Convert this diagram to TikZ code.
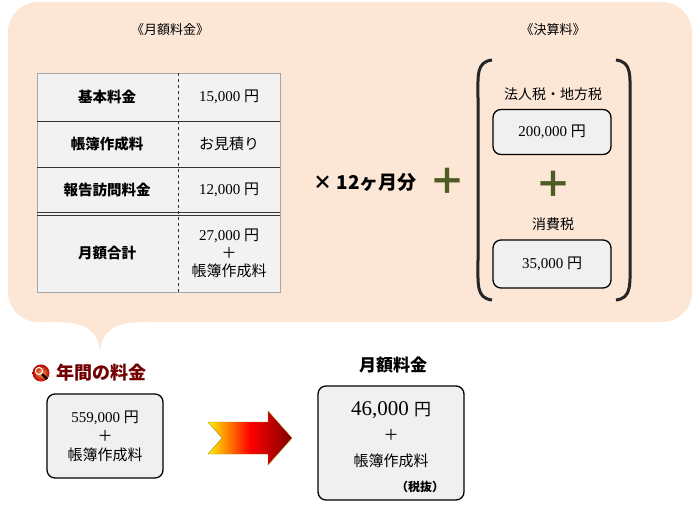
\documentclass[tikz,border=0pt]{standalone}
\usepackage{fontspec}
\setmainfont{Liberation Serif}
\newfontfamily\cjk{Noto Sans CJK JP}
\definecolor{pluscol}{HTML}{4E5B24}
\definecolor{bub}{HTML}{FCE6D6}
\begin{document}
\begin{tikzpicture}[x=1pt,y=-1pt,
  cell/.style={font=\cjk\bfseries\fontsize{14.5}{17}\selectfont},
  val/.style={font=\fontsize{15}{17}\selectfont,align=center},
  rbox/.style={draw=black,line width=1.3pt,rounded corners=8pt,fill=gray!12}]
\useasboundingbox (0,0) rectangle (700,511);
% background bubble
\fill[bub,rounded corners=30pt] (8,2) rectangle (692,322);
\fill[bub] (55,300) -- (55,322) .. controls (85,322) and (98,330) .. (100,352) .. controls (102,330) and (115,322) .. (145,322) -- (145,300) -- cycle;
% headers
\node (h1) at (170,30) {\cjk\fontsize{13}{15}\selectfont 《月額料金》};
\node (h2) at (553,30) {\cjk\fontsize{13}{15}\selectfont 《決算料》};
% table
\fill[gray!10,draw=gray!70,line width=1pt] (37,73) rectangle (280,292);
\draw[gray!40!black,dashed] (178,73) -- (178,292);
\draw[gray!40!black] (37,121) -- (280,121) (37,167) -- (280,167) (37,212) -- (280,212) (37,215) -- (280,215);
\node[cell] (a1) at (107,97) {基本料金};
\node[val] (b1) at (229,97) {15,000 {\cjk 円}};
\node[cell] (a2) at (107,144) {帳簿作成料};
\node[val] (b2) at (229,144) {\cjk お見積り};
\node[cell] (a3) at (107,190) {報告訪問料金};
\node[val] (b3) at (229,190) {12,000 {\cjk 円}};
\node[cell] (a4) at (107,253) {月額合計};
\node[val] (b4) at (229,253) {27,000 {\cjk 円}\\[1pt]{\cjk ＋}\\[1pt]{\cjk 帳簿作成料}};
% multiplication
\node (m) at (365,182) {\cjk\bfseries\fontsize{19}{22}\selectfont × 12ヶ月分};
\node[text=pluscol] (p1) at (447,181) {\cjk\bfseries\fontsize{36}{36}\selectfont ＋};
% brackets
\draw[line width=3pt,black!85] (492,60) .. controls (476,62) and (478,75) .. (478,100) -- (478,258) .. controls (478,285) and (476,298) .. (492,300);
\draw[line width=3pt,black!85] (616,60) .. controls (632,62) and (630,75) .. (630,100) -- (630,258) .. controls (630,285) and (632,298) .. (616,300);
\node (t1) at (553,94) {\cjk\fontsize{14}{16}\selectfont 法人税・地方税};
\node[rbox,minimum width=118pt,minimum height=45pt,font=\fontsize{15}{17}\selectfont] (c1) at (552,132) {200,000 {\cjk 円}};
\node[text=pluscol] (p2) at (553,184) {\cjk\bfseries\fontsize{36}{36}\selectfont ＋};
\node (t2) at (553,224) {\cjk\fontsize{14}{16}\selectfont 消費税};
\node[rbox,minimum width=118pt,minimum height=48pt,font=\fontsize{15}{17}\selectfont] (c2) at (552,264) {35,000 {\cjk 円}};
% bottom left
\node[circle,minimum size=17pt,inner sep=0pt,shading=radial,inner color=orange!70,outer color=red!70!black] (ic) at (41,373) {};
\draw[white,line width=1pt] (39,371) circle (3.6pt);
\draw[black,line width=2.2pt] (42,374) -- (47,379);
\node[text=red!45!black,anchor=west] (yr) at (53,373) {\cjk\bfseries\fontsize{18}{21}\selectfont 年間の料金};
\node[rbox,minimum width=116pt,minimum height=84pt,align=center,font=\fontsize{15}{17}\selectfont] (y) at (105,436) {559,000 {\cjk 円}\\[2pt]{\cjk ＋}\\[2pt]{\cjk 帳簿作成料}};
% arrow
\shade[left color=yellow!90!orange,right color=red!50!black,middle color=red,draw=olive!70!brown] (208,422) -- (268,422) -- (268,411) -- (292,438) -- (268,465) -- (268,454) -- (208,454) -- (222,438) -- cycle;
% bottom right
\node (mt) at (393,365) {\cjk\bfseries\fontsize{17}{20}\selectfont 月額料金};
\node[rbox,minimum width=146pt,minimum height=114pt] (r) at (391,443) {};
\node (r1) at (391,410) {\fontsize{21}{24}\selectfont 46,000 {\cjk\fontsize{17}{20}\selectfont 円}};
\node (r2) at (391,435) {\cjk\fontsize{15}{17}\selectfont ＋};
\node (r3) at (391,461) {\cjk\fontsize{15}{17}\selectfont 帳簿作成料};
\node (r4) at (420,487) {\cjk\bfseries\fontsize{12}{14}\selectfont （税抜）};
\end{tikzpicture}
\end{document}
